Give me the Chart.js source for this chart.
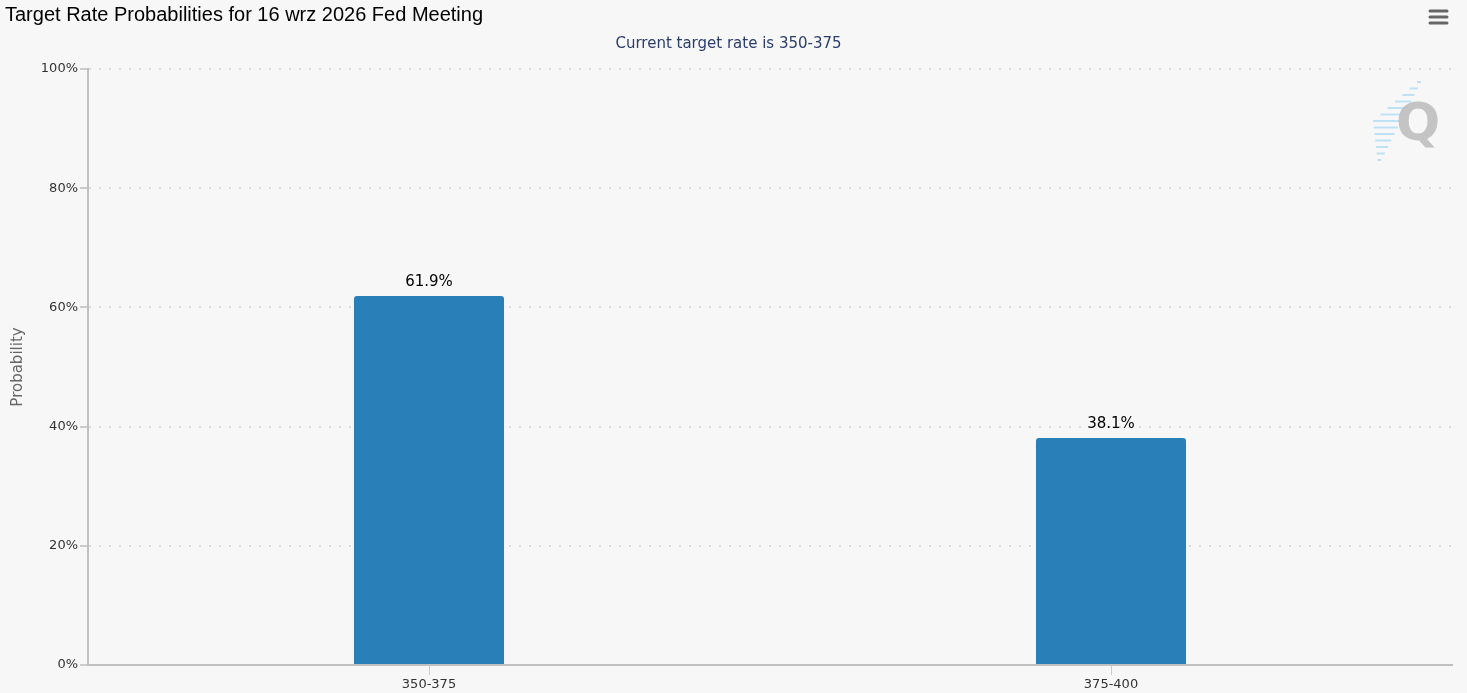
<!DOCTYPE html>
<html>
<head>
<meta charset="utf-8">
<title>Target Rate Probabilities</title>
<script src="https://cdn.jsdelivr.net/npm/chart.js@4/dist/chart.umd.min.js"></script>
<style>
    html, body { margin: 0; padding: 0; background: #f7f7f7; }
    #wrap { width: 1467px; height: 693px; position: relative; }
</style>
</head>
<body>
<div id="wrap"><canvas id="rate-chart"></canvas></div>
<script>
const targetRates = ['350-375', '375-400'];
const probabilities = [61.9, 38.1];
const yTicks = [0, 20, 40, 60, 80, 100];
const chartTitle = 'Target Rate Probabilities for 16 wrz 2026 Fed Meeting';
const chartSubtitle = 'Current target rate is 350-375';

// labels above each bar
const barLabels = {
    id: 'barLabels',
    afterDatasetsDraw(chart) {
        const ctx = chart.ctx;
        const meta = chart.getDatasetMeta(0);
        ctx.save();
        ctx.font = '15px "DejaVu Sans"';
        ctx.fillStyle = '#000';
        ctx.textAlign = 'center';
        ctx.textBaseline = 'bottom';
        meta.data.forEach((bar, i) => {
            ctx.fillText(probabilities[i].toFixed(1) + '%', bar.x, bar.y - 6);
        });
        ctx.restore();
    }
};

// menu icon and watermark
const decorations = {
    id: 'decorations',
    beforeDatasetsDraw(chart) {
        const ctx = chart.ctx;
        ctx.save();
        // watermark stripes
        ctx.strokeStyle = 'rgba(120, 200, 240, 0.45)';
        ctx.lineWidth = 2;
        for (let i = 0; i < 13; i++) {
            const y = 82 + i * 6.5;
            const x0 = 1421 - i * 3.3;
            const len = 4 + Math.min(i, 12 - i) * 4;
            ctx.beginPath();
            ctx.moveTo(x0 - len, y);
            ctx.lineTo(x0, y);
            ctx.stroke();
        }
        ctx.font = 'bold 52px "DejaVu Sans"';
        ctx.fillStyle = 'rgba(190, 190, 190, 0.9)';
        ctx.textAlign = 'center';
        ctx.textBaseline = 'middle';
        ctx.fillText('Q', 1418, 126);
        ctx.restore();
    },
    afterDraw(chart) {
        const ctx = chart.ctx;
        ctx.save();
        ctx.strokeStyle = '#666';
        ctx.lineWidth = 3;
        ctx.lineCap = 'round';
        [11, 17, 23].forEach(y => {
            ctx.beginPath();
            ctx.moveTo(1430, y);
            ctx.lineTo(1447, y);
            ctx.stroke();
        });
        ctx.restore();
    }
};

const ctx = document.getElementById('rate-chart').getContext('2d');

new Chart(ctx, {
    type: 'bar',
    data: {
        labels: targetRates,
        datasets: [{
            label: 'Probability',
            data: probabilities,
            backgroundColor: '#2980b9',
            borderRadius: { topLeft: 3, topRight: 3 },
            borderSkipped: 'bottom',
            categoryPercentage: 0.22,
            barPercentage: 1.0
        }]
    },
    options: {
        responsive: true,
        maintainAspectRatio: false,
        animation: false,
        layout: {
            padding: { left: 5, right: 15, top: 0, bottom: 0 }
        },
        scales: {
            x: {
                grid: {
                    offset: false,
                    drawOnChartArea: false,
                    tickLength: 10,
                    tickColor: '#ccc'
                },
                border: { color: '#c0c0c0', width: 2 },
                ticks: {
                    color: '#333',
                    padding: 2,
                    font: { family: 'DejaVu Sans', size: 13 }
                },
                afterFit(scale) { scale.height = 28; }
            },
            y: {
                min: 0,
                max: 100,
                afterBuildTicks(scale) {
                    scale.ticks = yTicks.map(v => ({ value: v }));
                },
                grid: {
                    color: '#dcdcdc',
                    lineWidth: 2,
                    tickLength: 8,
                    tickColor: '#ccc',
                    tickBorderDash: [0, 0]
                },
                border: { color: '#c0c0c0', width: 2, dash: [2, 8] },
                ticks: {
                    color: '#333',
                    padding: 2,
                    font: { family: 'DejaVu Sans', size: 13 },
                    callback: v => v + '%'
                },
                title: {
                    display: true,
                    text: 'Probability',
                    color: '#666',
                    padding: { top: 4, bottom: 14 },
                    font: { family: 'DejaVu Sans', size: 15 }
                },
                afterFit(scale) { scale.width = 83; }
            }
        },
        plugins: {
            legend: { display: false },
            tooltip: { enabled: false },
            title: {
                display: true,
                text: chartTitle,
                align: 'start',
                color: '#000',
                padding: { top: 3, bottom: 8 },
                font: { family: 'Liberation Sans', size: 20, weight: 'normal' }
            },
            subtitle: {
                display: true,
                text: chartSubtitle,
                color: '#2a3d6b',
                padding: { top: 0, bottom: 16 },
                font: { family: 'DejaVu Sans', size: 15 }
            }
        }
    },
    plugins: [barLabels, decorations]
});
</script>
</body>
</html>
